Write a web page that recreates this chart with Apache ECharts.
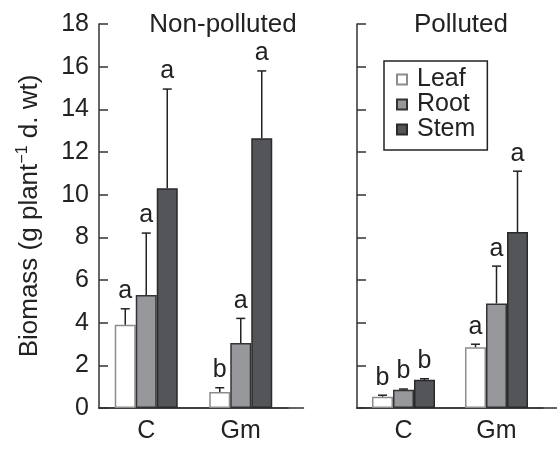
<!DOCTYPE html>
<html>
<head>
<meta charset="utf-8">
<script src="https://cdn.jsdelivr.net/npm/echarts@6/dist/echarts.min.js"></script>
<style>html,body{margin:0;padding:0;background:#fff}#c{width:557px;height:450px}</style>
</head>
<body>
<div id="c"></div>
<script>
const categories = ['C', 'Gm'];
const yTicks = [0, 2, 4, 6, 8, 10, 12, 14, 16, 18];

// Non-polluted
const leafNP = [3.9, 0.75];
const leafNPsd = [0.75, 0.2];
const rootNP = [5.3, 3.05];
const rootNPsd = [2.9, 1.15];
const stemNP = [10.3, 12.65];
const stemNPsd = [4.65, 3.15];
const leafNPlet = ['a', 'b'];
const rootNPlet = ['a', 'a'];
const stemNPlet = ['a', 'a'];

// Polluted
const leafP = [0.53, 2.85];
const leafPsd = [0.07, 0.14];
const rootP = [0.85, 4.9];
const rootPsd = [0.04, 1.75];
const stemP = [1.32, 8.25];
const stemPsd = [0.05, 2.85];
const leafPlet = ['b', 'a'];
const rootPlet = ['b', 'a'];
const stemPlet = ['b', 'a'];

const FONT = "'Liberation Sans', Arial, Helvetica, sans-serif";
const INK = '#222';
const BAR_W = 21;
const styles = {
  Leaf: { color: '#ffffff', borderColor: '#8c8c8c', borderWidth: 1.5 },
  Root: { color: '#97989c', borderColor: '#333', borderWidth: 1.5 },
  Stem: { color: '#535558', borderColor: '#2a2a2a', borderWidth: 1.5 }
};

function barSeries(name, vals, idx) {
  return {
    type: 'bar', name: name, xAxisIndex: idx, yAxisIndex: idx,
    data: vals, barWidth: BAR_W, barGap: '0%',
    itemStyle: styles[name], z: 2, animation: false
  };
}
function errSeries(vals, sds, letters, idx, off) {
  return {
    type: 'custom', xAxisIndex: idx, yAxisIndex: idx, z: 3, animation: false,
    data: vals.map((v, i) => [i, v, v + sds[i]]),
    renderItem: function (params, api) {
      const c = api.value(0);
      const b = api.coord([c, api.value(1)]);
      const t = api.coord([c, api.value(2)]);
      const x = b[0] + off * BAR_W;
      const ls = { stroke: INK, lineWidth: 1.5 };
      return {
        type: 'group', children: [
          { type: 'line', shape: { x1: x, y1: b[1], x2: x, y2: t[1] }, style: ls },
          { type: 'line', shape: { x1: x - 4.5, y1: t[1], x2: x + 4.5, y2: t[1] }, style: ls },
          { type: 'text', x: x, y: t[1] - 5, style: { text: letters[params.dataIndex], fill: INK,
            fontSize: 25, fontFamily: FONT, align: 'center', verticalAlign: 'bottom' } }
        ]
      };
    }
  };
}

const axisLineStyle = { color: '#333', width: 1.5 };
function catAxis(idx) {
  return {
    type: 'category', gridIndex: idx, data: categories,
    axisLine: { lineStyle: axisLineStyle },
    axisTick: { inside: true, length: 8, interval: 0, lineStyle: axisLineStyle },
    axisLabel: { color: INK, fontSize: 25, fontFamily: FONT, margin: 11 },
    splitLine: { show: false }
  };
}
function valAxis(idx, labels) {
  return {
    type: 'value', gridIndex: idx, min: 0, max: 18, interval: 2,
    axisLine: { show: true, lineStyle: axisLineStyle },
    axisTick: { show: true, inside: true, length: 9, lineStyle: axisLineStyle },
    axisLabel: { show: labels, color: INK, fontSize: 25, fontFamily: FONT, margin: 10,
      formatter: v => yTicks.includes(v) ? String(v) : '' },
    splitLine: { show: false }
  };
}
function lineAxis(idx) {
  return {
    type: 'value', gridIndex: idx, min: 0, max: 1,
    axisLine: { show: true, onZero: false, lineStyle: axisLineStyle },
    axisTick: { show: false }, axisLabel: { show: false }, splitLine: { show: false }
  };
}
function hiddenY(idx) {
  return { type: 'value', gridIndex: idx, min: 0, max: 1, show: false };
}

const yName = valAxis(0, true);
yName.name = 'Biomass (g plant{sup|−1} d. wt)';
yName.nameLocation = 'middle';
yName.nameRotate = 90;
yName.nameGap = 54;
yName.nameTextStyle = {
  color: INK, fontSize: 26, fontFamily: FONT, lineHeight: 30,
  rich: { sup: { fontSize: 16, fontFamily: FONT, color: INK, verticalAlign: 'top', lineHeight: 17 } }
};

const option = {
  backgroundColor: '#fff',
  animation: false,
  title: [
    { text: 'Non-polluted', left: 218, top: 7, textAlign: 'center',
      textStyle: { color: INK, fontSize: 26, fontWeight: 'normal', fontFamily: FONT } },
    { text: 'Polluted', left: 456, top: 7, textAlign: 'center',
      textStyle: { color: INK, fontSize: 26, fontWeight: 'normal', fontFamily: FONT } }
  ],
  legend: {
    data: ['Leaf', 'Root', 'Stem'], orient: 'vertical', left: 384, top: 61,
    itemWidth: 10, itemHeight: 10, itemGap: 0, padding: [6, 12, 8, 12],
    borderColor: '#222', borderWidth: 1.5, icon: 'rect', selectedMode: false,
    textStyle: { color: INK, fontSize: 25, fontFamily: FONT, lineHeight: 24, padding: [0, 0, 0, 5] }
  },
  grid: [
    { left: 99, top: 24, width: 189, height: 384 },
    { left: 357, top: 24, width: 186, height: 384 },
    { left: 99, top: 24, width: 204.5, height: 384 },
    { left: 357, top: 24, width: 200, height: 384 }
  ],
  xAxis: [catAxis(0), catAxis(1), lineAxis(2), lineAxis(3)],
  yAxis: [yName, valAxis(1, false), hiddenY(2), hiddenY(3)],
  series: [
    barSeries('Leaf', leafNP, 0), barSeries('Root', rootNP, 0), barSeries('Stem', stemNP, 0),
    barSeries('Leaf', leafP, 1), barSeries('Root', rootP, 1), barSeries('Stem', stemP, 1),
    errSeries(leafNP, leafNPsd, leafNPlet, 0, -1),
    errSeries(rootNP, rootNPsd, rootNPlet, 0, 0),
    errSeries(stemNP, stemNPsd, stemNPlet, 0, 1),
    errSeries(leafP, leafPsd, leafPlet, 1, -1),
    errSeries(rootP, rootPsd, rootPlet, 1, 0),
    errSeries(stemP, stemPsd, stemPlet, 1, 1)
  ]
};
echarts.init(document.getElementById('c'), null, { renderer: 'canvas' }).setOption(option);
</script>
</body>
</html>
